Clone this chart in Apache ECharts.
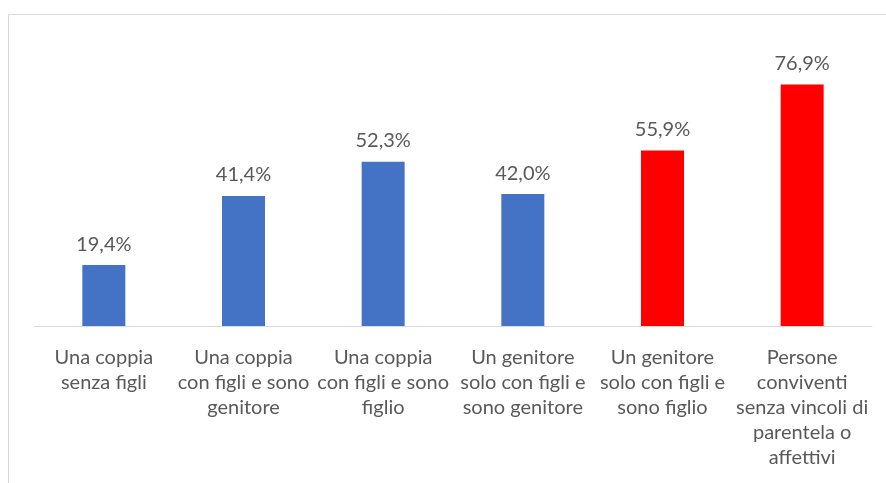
<!DOCTYPE html>
<html>
<head>
<meta charset="utf-8">
<script src="https://cdn.jsdelivr.net/npm/echarts@6/dist/echarts.min.js"></script>
<style>
  html, body { margin: 0; padding: 0; background: #fff; }
  #chart { width: 886px; height: 483px; }
</style>
</head>
<body>
<div id="chart"></div>
<script>
const categories = [
  'Una coppia\nsenza figli',
  'Una coppia\ncon figli e sono\ngenitore',
  'Una coppia\ncon figli e sono\nfiglio',
  'Un genitore\nsolo con figli e\nsono genitore',
  'Un genitore\nsolo con figli e\nsono figlio',
  'Persone\nconviventi\nsenza vincoli di\nparentela o\naffettivi'
];
const values = [19.4, 41.4, 52.3, 42.0, 55.9, 76.9];
const barColors = ['#4472C4', '#4472C4', '#4472C4', '#4472C4', '#FF0000', '#FF0000'];

const fmt = v => v.toFixed(1).replace('.', ',') + '%';

const chart = echarts.init(document.getElementById('chart'), null, { renderer: 'canvas' });
chart.setOption({
  animation: false,
  backgroundColor: '#fff',
  textStyle: { fontFamily: 'Lato' },
  graphic: [{
    type: 'rect',
    shape: { x: 8.5, y: 14.5, width: 900, height: 500 },
    style: { fill: 'none', stroke: '#d9d9d9', lineWidth: 1 },
    silent: true
  }],
  grid: { left: 34, right: 14, top: 12, bottom: 157, containLabel: false },
  xAxis: {
    type: 'category',
    data: categories,
    axisLine: { lineStyle: { color: '#d9d9d9', width: 1 } },
    axisTick: { show: false },
    axisLabel: {
      interval: 0,
      color: '#595959',
      fontSize: 20,
      lineHeight: 25,
      margin: 19,
      align: 'center'
    }
  },
  yAxis: {
    type: 'value',
    min: 0,
    max: 100,
    show: false,
    splitLine: { show: false }
  },
  series: [{
    type: 'bar',
    barWidth: 43,
    data: values.map((v, i) => ({ value: v, itemStyle: { color: barColors[i] } })),
    label: {
      show: true,
      position: 'top',
      distance: 11,
      color: '#595959',
      fontSize: 20,
      formatter: p => fmt(p.value)
    }
  }]
});
</script>
</body>
</html>
